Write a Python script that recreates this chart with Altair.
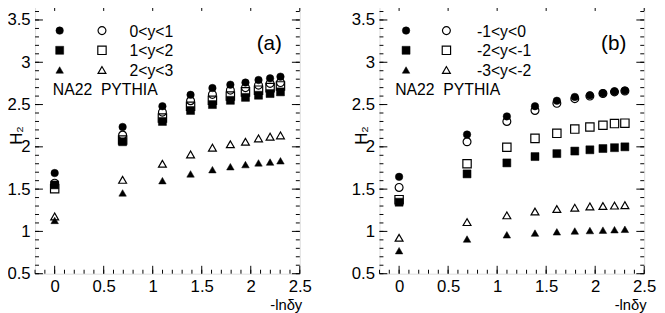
import altair as alt
import pandas as pd

# -ln(delta y) positions (ln M, M = 1..10)
x_vals = [0.0, 0.693, 1.099, 1.386, 1.609, 1.792, 1.946, 2.079, 2.197, 2.303]

# Panel (a)
a_circle_filled = [1.69, 2.235, 2.48, 2.615, 2.695, 2.735, 2.76, 2.79, 2.81, 2.83]
a_circle_open = [1.57, 2.14, 2.41, 2.545, 2.62, 2.67, 2.70, 2.73, 2.75, 2.76]
a_square_filled = [1.55, 2.06, 2.30, 2.43, 2.50, 2.55, 2.585, 2.61, 2.63, 2.65]
a_square_open = [1.505, 2.08, 2.34, 2.48, 2.55, 2.60, 2.65, 2.67, 2.70, 2.72]
a_tri_filled = [1.13, 1.455, 1.60, 1.68, 1.73, 1.765, 1.79, 1.81, 1.82, 1.835]
a_tri_open = [1.177, 1.61, 1.80, 1.91, 1.99, 2.03, 2.06, 2.10, 2.12, 2.135]
a_labels = ["0<y<1", "1<y<2", "2<y<3"]

# Panel (b)
b_circle_filled = [1.645, 2.145, 2.36, 2.48, 2.545, 2.59, 2.61, 2.635, 2.655, 2.665]
b_circle_open = [1.52, 2.06, 2.30, 2.43, 2.515, 2.57, 2.60, 2.63, 2.65, 2.66]
b_square_filled = [1.345, 1.68, 1.81, 1.885, 1.92, 1.95, 1.965, 1.98, 1.99, 2.00]
b_square_open = [1.375, 1.80, 1.995, 2.10, 2.16, 2.21, 2.235, 2.255, 2.275, 2.28]
b_tri_filled = [0.772, 0.91, 0.96, 0.98, 0.995, 1.005, 1.01, 1.015, 1.02, 1.025]
b_tri_open = [0.925, 1.11, 1.19, 1.235, 1.265, 1.28, 1.295, 1.30, 1.305, 1.31]
b_labels = ["-1<y<0", "-2<y<-1", "-3<y<-2"]

x_major = [0, 0.5, 1, 1.5, 2, 2.5]
x_minor = [round(-0.2 + 0.1 * i, 1) for i in range(28)]
y_major = [0.5, 1, 1.5, 2, 2.5, 3, 3.5]
y_minor = [round(0.5 + 0.1 * i, 1) for i in range(33)]

FONT = "Liberation Sans"
W, H = 269, 275
xs = alt.Scale(domain=[-0.2, 2.5], nice=False, zero=False)
ys = alt.Scale(domain=[0.5, 3.7], nice=False, zero=False)

x_axis = alt.Axis(values=x_major, format="~g", ticks=False, tickSize=0, domain=False,
                  grid=False, labelFontSize=17, labelPadding=5, labelFont=FONT,
                  labelColor="black", labelFlush=False, labelOverlap=False,
                  title="-lnδy", titleFont=FONT, titleFontSize=15, titleFontWeight="normal",
                  titleColor="black", titleAlign="right", titleX=W + 2, titleY=36,
                  titleBaseline="alphabetic")
y_axis = alt.Axis(values=y_major, format="~g", ticks=False, tickSize=0, domain=False,
                  grid=False, labelFontSize=17, labelPadding=5, labelFont=FONT,
                  labelColor="black", labelOverlap=False,
                  title="H₂", titleFont=FONT, titleFontSize=17, titleFontWeight="normal",
                  titleColor="black", titleAngle=270, titleX=-13.5, titleY=134,
                  titleAlign="center", titleBaseline="alphabetic")

SIZES = {"circle": 64, "square": 72, "triangle-up": 64}


def X(field):
    return alt.X(f"{field}:Q", scale=xs, axis=x_axis)


def Y(field):
    return alt.Y(f"{field}:Q", scale=ys, axis=y_axis)


def series_layer(vals, shape, filled):
    df = pd.DataFrame({"x": x_vals, "h": vals})
    if filled:
        m = alt.Chart(df).mark_point(shape=shape, filled=True, fill="black", stroke="black",
                                     strokeWidth=0.5, opacity=1, size=SIZES[shape] - 6)
    else:
        m = alt.Chart(df).mark_point(shape=shape, filled=False, stroke="black",
                                     strokeWidth=1.2, opacity=1, size=SIZES[shape])
    return m.encode(x=X("x"), y=Y("h"))


def tick_layers():
    layers = []
    for vals, ln in ((x_major, 8), (x_minor, 4)):
        df = pd.DataFrame({"v": vals})
        base = alt.Chart(df).mark_rule(color="black", strokeWidth=1)
        layers.append(base.encode(x=X("v"), y=alt.value(H), y2=alt.value(H - ln)))
        layers.append(base.encode(x=X("v"), y=alt.value(0), y2=alt.value(ln)))
    for vals, ln in ((y_major, 8), (y_minor, 4)):
        df = pd.DataFrame({"v": vals})
        base = alt.Chart(df).mark_rule(color="black", strokeWidth=1)
        layers.append(base.encode(y=Y("v"), x=alt.value(0), x2=alt.value(ln)))
        layers.append(base.encode(y=Y("v"), x=alt.value(W), x2=alt.value(W - ln)))
    return layers


def panel(data, labels, tag, lx_f, lx_o, lx_t, nx):
    cf, co, sf, so, tf, to = data
    layers = tick_layers()
    layers += [
        series_layer(so, "square", False),
        series_layer(co, "circle", False),
        series_layer(to, "triangle-up", False),
        series_layer(sf, "square", True),
        series_layer(cf, "circle", True),
        series_layer(tf, "triangle-up", True),
    ]
    rows = [28, 48, 68]
    shapes = ["circle", "square", "triangle-up"]
    for r, shp, lab in zip(rows, shapes, labels):
        layers.append(alt.Chart().mark_point(shape=shp, filled=True, fill="black", opacity=1,
                                             strokeWidth=0.5, stroke="black",
                                             size=SIZES[shp] - 6)
                      .encode(x=alt.value(lx_f), y=alt.value(r)))
        layers.append(alt.Chart().mark_point(shape=shp, filled=False, stroke="black",
                                             strokeWidth=1.2, opacity=1, size=SIZES[shp])
                      .encode(x=alt.value(lx_o), y=alt.value(r)))
        layers.append(alt.Chart().mark_text(text=lab, font=FONT, fontSize=16, align="left",
                                            baseline="middle", color="black")
                      .encode(x=alt.value(lx_t), y=alt.value(r + 1)))
    layers.append(alt.Chart().mark_text(text="NA22\u00a0\u00a0PYTHIA", font=FONT, fontSize=16,
                                        align="left", baseline="middle", color="black")
                  .encode(x=alt.value(nx), y=alt.value(88)))
    layers.append(alt.Chart().mark_text(text=tag, font=FONT, fontSize=21, align="center",
                                        baseline="middle", color="black")
                  .encode(x=alt.value(238), y=alt.value(42)))
    return alt.layer(*layers).properties(width=W, height=H)


pa = panel([a_circle_filled, a_circle_open, a_square_filled, a_square_open,
            a_tri_filled, a_tri_open], a_labels, "(a)", 25, 68, 96, 18)
pb = panel([b_circle_filled, b_circle_open, b_square_filled, b_square_open,
            b_tri_filled, b_tri_open], b_labels, "(b)", 27, 68, 99, 16)

chart = (
    alt.hconcat(pa, pb, spacing=81, bounds="flush")
    .properties(padding={"left": -2.5, "top": -8.5, "right": 0, "bottom": 0})
    .configure_view(stroke="black", strokeWidth=1.2)
    .configure(font=FONT)
)

chart.save("out.html", embed_options={"renderer": "svg", "actions": False})
